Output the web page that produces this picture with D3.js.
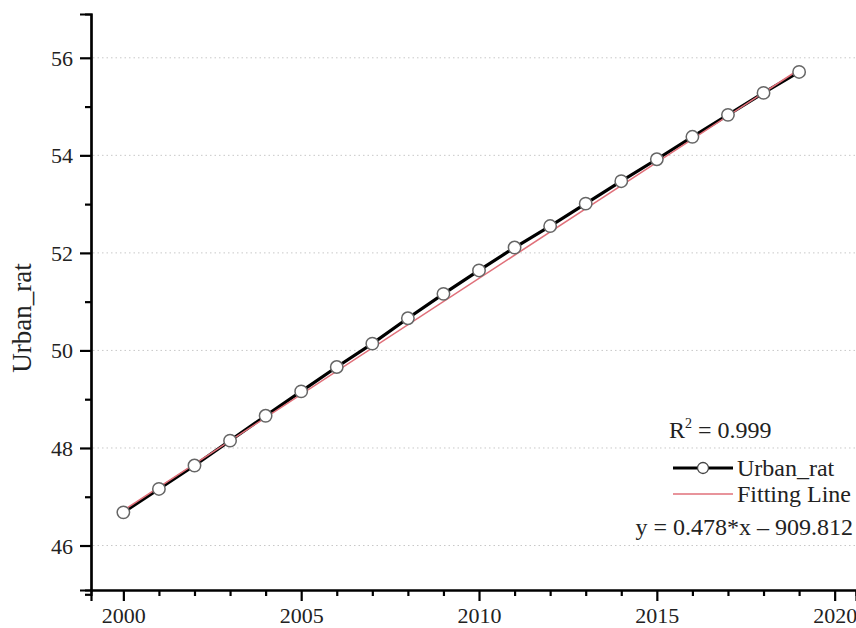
<!DOCTYPE html>
<html><head><meta charset="utf-8">
<script src="https://cdn.jsdelivr.net/npm/d3@7"></script>
<style>body{margin:0;background:#fff}svg{display:block}</style>
</head><body><svg id="c" width="856" height="628"></svg>
<script>
const years = [2000,2001,2002,2003,2004,2005,2006,2007,2008,2009,2010,2011,2012,2013,2014,2015,2016,2017,2018,2019];
const urbanRat = [46.68,47.16,47.64,48.15,48.66,49.16,49.66,50.14,50.66,51.16,51.64,52.11,52.55,53.01,53.47,53.92,54.38,54.83,55.28,55.71];
const fitYears = [2000,2019];
const fitValues = [46.72,55.76];
const xTicks = [2000,2005,2010,2015,2020];
const xMinor = [2001,2002,2003,2004,2006,2007,2008,2009,2011,2012,2013,2014,2016,2017,2018,2019];
const yTicks = [46,48,50,52,54,56];
const yMinor = [45,47,49,51,53,55];
const legendTexts = ["Urban_rat","Fitting Line"];
const r2Text = "0.999";
const eqText = "y = 0.478*x \u2013 909.812";

const svg = d3.select("#c");
const font = "'Liberation Serif','Times New Roman',serif";
const x = d3.scaleLinear().domain([1999.09,2020.6]).range([91,856]);
const y = d3.scaleLinear().domain([45.088,56.898]).range([590,14]);

// gridlines
svg.append("g").selectAll("line").data(yTicks).join("line")
  .attr("x1",x(1999.09)+2).attr("x2",856).attr("y1",d=>y(d)).attr("y2",d=>y(d))
  .attr("stroke","#c8c8c8").attr("stroke-width",1).attr("stroke-dasharray","1.5,3");

// axes
const xAxis = svg.append("g").attr("transform","translate(0,590)")
  .call(d3.axisBottom(x).tickValues(xTicks).tickFormat(d3.format("d")).tickSize(11).tickPadding(6));
const xAxisMinor = svg.append("g").attr("transform","translate(0,590)")
  .call(d3.axisBottom(x).tickValues(xMinor).tickFormat("").tickSize(6));
const yAxis = svg.append("g").attr("transform","translate(91,0)")
  .call(d3.axisLeft(y).tickValues(yTicks).tickSize(11).tickPadding(7));
const yAxisMinor = svg.append("g").attr("transform","translate(91,0)")
  .call(d3.axisLeft(y).tickValues(yMinor).tickFormat("").tickSize(6));
[xAxis,xAxisMinor,yAxis,yAxisMinor].forEach(g=>{
  g.attr("font-family",font).attr("font-size",22);
  g.select(".domain").attr("stroke","#000").attr("stroke-width",2.2);
  g.selectAll(".tick line").attr("stroke","#000").attr("stroke-width",2.2);
  g.selectAll("text").attr("font-family",font).attr("font-size",22).attr("fill","#222");
});
yAxis.selectAll(".tick text").attr("dy","0.34em");

// y label
svg.append("text").attr("transform","translate(31,318) rotate(-90)")
  .attr("text-anchor","middle").attr("font-family",font).attr("font-size",27).attr("fill","#222")
  .text("Urban_rat");

// data line
const pts = years.map((d,i)=>[d,urbanRat[i]]);
svg.append("path").datum(pts)
  .attr("d",d3.line().x(d=>x(d[0])).y(d=>y(d[1])))
  .attr("fill","none").attr("stroke","#000").attr("stroke-width",3.2);
// fit line
svg.append("path").datum(fitYears.map((d,i)=>[d,fitValues[i]]))
  .attr("d",d3.line().x(d=>x(d[0])).y(d=>y(d[1])))
  .attr("fill","none").attr("stroke","#e0707a").attr("stroke-width",1.6);
// markers
svg.append("g").selectAll("circle").data(pts).join("circle")
  .attr("cx",d=>x(d[0])).attr("cy",d=>y(d[1])).attr("r",6.2)
  .attr("fill","#fff").attr("stroke","#666").attr("stroke-width",1.5);

// legend
const lg = svg.append("g").attr("font-family",font).attr("font-size",24).attr("fill","#222");
const r2 = lg.append("text").attr("x",669).attr("y",438);
r2.append("tspan").text("R");
r2.append("tspan").attr("font-size",14).attr("dy",-10).text("2");
r2.append("tspan").attr("dy",10).text(" = " + r2Text);

lg.append("line").attr("x1",673).attr("x2",733).attr("y1",468).attr("y2",468).attr("stroke","#000").attr("stroke-width",3.2);
lg.append("circle").attr("cx",703).attr("cy",468).attr("r",5.5).attr("fill","#fff").attr("stroke","#444").attr("stroke-width",1.3);
lg.append("text").attr("x",737).attr("y",476).text(legendTexts[0]);
lg.append("line").attr("x1",673).attr("x2",733).attr("y1",494).attr("y2",494).attr("stroke","#e0707a").attr("stroke-width",1.6);
lg.append("text").attr("x",737).attr("y",502).text(legendTexts[1]);
lg.append("text").attr("x",853).attr("y",535).attr("text-anchor","end").text(eqText);
</script></body></html>
